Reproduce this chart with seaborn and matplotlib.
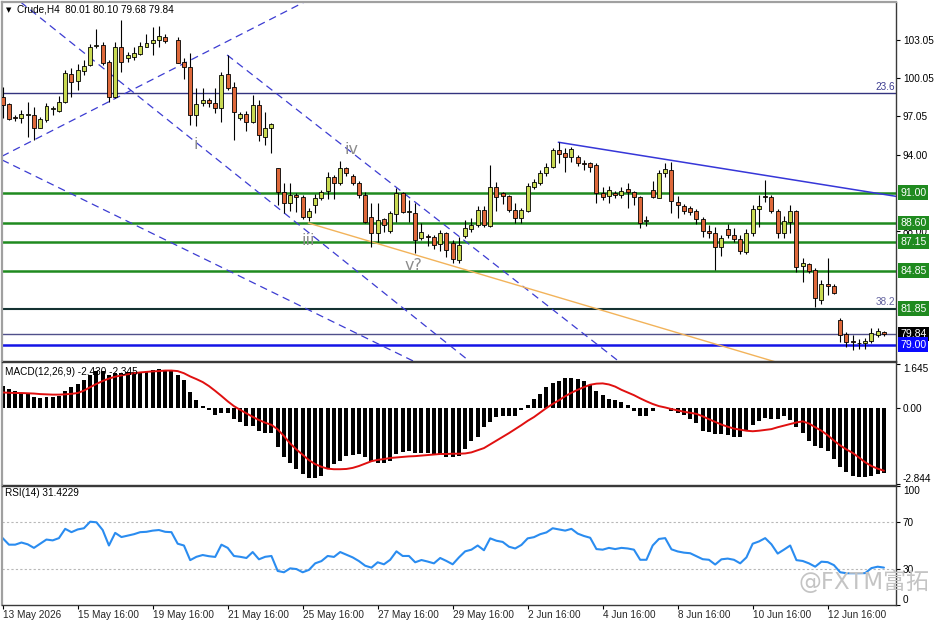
import numpy as np
import pandas as pd
import matplotlib
matplotlib.use("Agg")
import matplotlib.pyplot as plt
import matplotlib.transforms as mtransforms
import seaborn as sns

# ---------------- data ----------------
nan = np.nan
opens = [98.54, 97.99, 96.95, 96.88, 97.14, 97.14, 96.14, 96.75, 97.60, 97.48,
         98.19, 100.35, 99.85, 100.64, 101.09, 102.55, 102.67, 101.35, 98.54, 102.49,
         101.66, 101.74, 101.95, 102.53, 102.85, 103.06, 103.32, nan, 103.06, 101.30,
         100.96, 97.14, 98.07, 98.32, 98.07, 97.67, 100.35, 99.33, 96.93, 97.20,
         96.61, 97.93, 95.43, 96.09, 92.93, 91.04, 90.17, 90.80, 90.69, 89.06,
         90.04, 90.56, 91.16, 92.27, 91.80, 92.93, 92.32, 91.80, 90.83, 89.06,
         87.85, 88.90, 88.00, 89.33, 91.00, 89.50, 89.43, 87.40, 87.60, 87.47,
         86.95, 87.80, 87.01, 85.69, 87.59, 88.11, 88.46, 89.64, 88.38, 91.43,
         90.96, 90.75, 89.64, 88.98, 89.56, 91.48, 91.80, 92.54, 93.01, 94.38,
         94.17, 93.80, 93.80, 93.35, 93.32, 93.19, 91.01, 90.75, 91.01, 90.83,
         91.27, 91.06, 90.69, 88.75, 91.22, 90.61, 92.54, 92.80, 90.30, 89.98,
         89.83, 89.56, 88.90, 87.98, 87.80, 86.69, 88.11, 87.64, 87.38, 86.35,
         87.85, 89.69, 90.69, 90.69, 89.56, 87.80, 88.72, 89.56, 85.22, 85.38,
         84.90, 82.54, 83.80, 83.64, 80.96, 79.85, 79.22, 79.12, 79.11, 79.30,
         79.80, 80.01]
highs = [99.38, 98.09, 97.14, 97.53, 98.19, 97.75, 97.01, 98.09, 97.88, 98.64,
         100.69, 100.87, 101.14, 101.48, 102.72, 103.91, 102.93, 101.48, 102.93, 104.64,
         102.14, 102.53, 102.93, 103.54, 104.11, 104.17, 103.54, nan, 103.30, 101.62,
         102.01, 99.25, 99.25, 98.50, 99.25, 100.56, 101.88, 99.72, 97.40, 97.48,
         98.72, 98.32, 97.40, 96.49, 92.93, 91.75, 91.75, 90.96, 90.83, 89.79,
         90.90, 91.20, 92.66, 92.43, 93.53, 93.00, 92.50, 91.96, 91.10, 90.17,
         90.17, 89.00, 89.60, 91.35, 91.10, 90.40, 90.17, 88.60, 87.75, 87.70,
         88.10, 87.93, 87.27, 87.54, 88.85, 88.98, 89.96, 89.96, 93.19, 91.88,
         91.09, 90.83, 90.17, 89.77, 91.75, 92.06, 92.80, 93.32, 94.51, 94.98,
         94.51, 94.64, 93.98, 93.59, 93.46, 93.32, 91.43, 91.54, 91.14, 91.43,
         91.75, 91.17, 90.75, 89.17, 91.96, 92.80, 93.32, 93.46, 90.75, 90.12,
         89.96, 89.69, 89.06, 88.46, 88.33, 87.67, 88.51, 88.19, 87.67, 88.11,
         90.04, 90.83, 92.01, 90.83, 89.69, 89.17, 90.04, 89.64, 85.83, 85.48,
         85.04, 84.12, 85.88, 83.80, 81.09, 80.04, 79.77, 79.43, 79.51, 80.30,
         80.35, 80.10]
lows = [96.88, 96.74, 96.67, 96.49, 95.43, 95.17, 96.09, 96.60, 97.14, 97.40,
        98.11, 98.59, 99.11, 100.30, 101.03, 102.41, 101.09, 98.19, 98.46, 100.56,
        101.35, 101.48, 101.88, 102.49, 101.88, 102.53, 102.85, nan, 101.22, 99.96,
        96.35, 96.27, 97.85, 97.80, 97.27, 96.61, 99.11, 95.17, 96.75, 95.90,
        96.48, 95.11, 94.77, 94.12, 90.04, 89.43, 89.59, 89.50, 88.90, 88.75,
        89.43, 90.40, 90.48, 90.50, 91.60, 92.30, 91.60, 90.60, 88.60, 86.74,
        87.14, 87.90, 87.80, 88.72, 89.40, 88.72, 86.22, 87.30, 86.80, 86.60,
        86.40, 85.95, 85.48, 85.43, 87.40, 87.93, 88.33, 88.33, 88.33, 89.59,
        90.12, 89.51, 88.59, 88.59, 89.48, 91.27, 91.62, 92.33, 92.93, 93.32,
        92.67, 93.46, 93.11, 92.80, 92.67, 90.22, 90.43, 90.22, 90.56, 90.56,
        89.77, 90.04, 88.19, 88.38, 90.56, 90.56, 92.27, 89.43, 88.98, 89.32,
        89.25, 88.54, 87.54, 87.40, 84.90, 86.01, 87.40, 87.14, 86.17, 86.17,
        87.59, 88.33, 90.30, 89.43, 87.40, 87.40, 87.80, 84.77, 83.98, 84.69,
        82.01, 82.22, 82.93, 83.01, 79.24, 78.85, 78.59, 78.64, 78.64, 79.17,
        79.64, 79.68]
closes = [97.93, 96.80, 96.92, 97.20, 97.16, 96.14, 96.83, 97.88, 97.68, 98.14,
          100.43, 99.77, 100.69, 101.03, 102.49, 102.65, 101.22, 98.59, 102.49, 101.35,
          101.88, 102.01, 102.59, 102.85, 103.06, 103.38, 103.01, nan, 101.27, 100.91,
          97.14, 98.01, 98.32, 98.07, 97.67, 100.30, 99.25, 97.40, 97.20, 96.61,
          97.93, 95.56, 96.09, 96.41, 91.09, 90.17, 90.83, 90.70, 89.06, 89.56,
          90.56, 91.08, 92.22, 91.80, 92.93, 92.54, 91.80, 90.83, 88.72, 87.80,
          88.85, 88.46, 89.43, 91.00, 89.50, 89.52, 87.27, 87.90, 87.47, 86.85,
          87.80, 86.48, 85.75, 86.88, 88.19, 88.46, 89.64, 88.46, 91.48, 90.69,
          90.75, 89.64, 88.98, 89.64, 91.54, 91.88, 92.54, 93.01, 94.38, 94.06,
          93.85, 94.43, 93.32, 93.30, 93.01, 91.01, 90.69, 91.22, 90.83, 91.17,
          91.09, 90.64, 88.64, 88.82, 90.69, 92.54, 92.85, 90.35, 90.04, 89.59,
          89.51, 88.90, 87.98, 87.80, 86.69, 87.40, 87.64, 87.33, 86.43, 87.80,
          89.69, 89.96, 90.67, 89.56, 87.80, 88.77, 89.56, 85.17, 85.48, 84.85,
          82.67, 83.80, 83.67, 83.06, 79.77, 79.24, 79.19, 79.11, 79.32, 79.96,
          80.06, 79.84]

macd_main = [0.835, 0.71, 0.62, 0.56, 0.52, 0.42, 0.36, 0.40, 0.42, 0.46,
             0.65, 0.77, 0.90, 1.06, 1.25, 1.37, 1.40, 1.25, 1.30, 1.30,
             1.33, 1.33, 1.36, 1.40, 1.42, 1.46, 1.43, 1.40, 1.25, 1.05,
             0.59, 0.30, 0.09, -0.08, -0.25, -0.20, -0.20, -0.41, -0.54, -0.68,
             -0.68, -0.85, -0.95, -0.95, -1.45, -1.85, -2.07, -2.29, -2.47, -2.62,
             -2.62, -2.53, -2.25, -2.10, -1.97, -1.79, -1.75, -1.72, -1.85, -2.00,
             -2.04, -2.04, -1.97, -1.72, -1.66, -1.62, -1.70, -1.70, -1.70, -1.72,
             -1.72, -1.82, -1.85, -1.79, -1.52, -1.22, -1.07, -0.72, -0.54, -0.33,
             -0.29, -0.29, -0.29, -0.08, 0.11, 0.34, 0.52, 0.77, 0.92, 1.02,
             1.12, 1.12, 1.09, 1.02, 0.87, 0.65, 0.50, 0.34, 0.30, 0.21,
             0.12, -0.13, -0.29, -0.29, -0.13, -0.01, 0.02, -0.13, -0.20, -0.25,
             -0.41, -0.57, -0.85, -0.91, -0.97, -0.97, -1.00, -1.07, -1.07, -0.87,
             -0.62, -0.47, -0.37, -0.41, -0.41, -0.29, -0.45, -0.72, -0.95, -1.22,
             -1.41, -1.50, -1.60, -1.91, -2.22, -2.41, -2.53, -2.57, -2.57, -2.53,
             -2.47, -2.43]
macd_signal = [0.58, 0.57, 0.56, 0.56, 0.55, 0.54, 0.52, 0.51, 0.50, 0.50,
               0.51, 0.53, 0.56, 0.65, 0.78, 0.90, 1.01, 1.10, 1.17, 1.22,
               1.26, 1.30, 1.33, 1.35, 1.37, 1.38, 1.40, 1.40, 1.38, 1.30,
               1.18, 1.08, 0.97, 0.82, 0.64, 0.45, 0.25, 0.07, -0.07, -0.20,
               -0.33, -0.45, -0.55, -0.63, -0.80, -1.05, -1.33, -1.55, -1.75, -1.95,
               -2.10, -2.20, -2.27, -2.29, -2.29, -2.28, -2.24, -2.17, -2.08, -1.99,
               -1.94, -1.91, -1.87, -1.85, -1.83, -1.81, -1.80, -1.78, -1.76, -1.74,
               -1.72, -1.72, -1.71, -1.71, -1.70, -1.66, -1.58, -1.50, -1.36, -1.22,
               -1.08, -0.94, -0.79, -0.64, -0.48, -0.34, -0.17, 0.00, 0.15, 0.29,
               0.44, 0.57, 0.68, 0.78, 0.87, 0.91, 0.92, 0.88, 0.80, 0.68,
               0.58, 0.48, 0.36, 0.25, 0.15, 0.07, 0.02, -0.04, -0.09, -0.14,
               -0.18, -0.22, -0.31, -0.42, -0.52, -0.62, -0.70, -0.77, -0.81, -0.85,
               -0.87, -0.85, -0.82, -0.79, -0.72, -0.66, -0.60, -0.54, -0.50, -0.58,
               -0.72, -0.85, -1.02, -1.22, -1.40, -1.55, -1.68, -1.85, -2.03, -2.17,
               -2.27, -2.345]
rsi_values = [56.2, 50.7, 50.7, 52.5, 51.0, 48.0, 51.5, 55.0, 54.3, 56.2,
              64.0, 61.2, 63.5, 64.5, 70.0, 69.5, 63.0, 50.0, 60.6, 57.1,
              58.3, 59.5, 61.2, 61.5, 62.5, 63.0, 61.5, 61.2, 51.5, 50.0,
              37.7, 40.5, 42.0, 41.0, 40.4, 50.7, 48.0, 41.2, 40.5, 39.5,
              44.5, 38.4, 40.5, 41.2, 28.6, 27.5, 30.8, 30.2, 27.5, 29.5,
              35.0, 36.9, 41.2, 40.4, 44.5, 42.3, 40.0, 36.9, 33.0, 31.4,
              35.9, 34.2, 38.0, 45.1, 41.2, 41.2, 35.9, 37.8, 36.5, 35.0,
              39.5, 37.0, 34.2, 40.0, 45.1, 46.5, 50.0, 46.0, 56.0, 54.0,
              53.0, 49.0, 47.5, 50.5, 56.0, 57.0, 59.5, 61.0, 64.5, 63.5,
              62.5, 64.0, 60.0, 58.0, 56.5, 47.0, 46.5, 48.0, 47.0, 48.0,
              47.5, 46.5, 38.0, 38.0, 50.0, 55.5, 56.2, 46.8, 45.0, 44.0,
              43.5, 41.0, 38.5, 38.0, 34.0, 38.4, 39.0, 38.0, 35.0, 40.0,
              51.5, 53.4, 56.2, 51.0, 43.2, 46.5, 50.0, 37.7, 37.0, 35.0,
              32.2, 36.4, 36.0, 33.5, 27.5, 26.7, 26.7, 26.7, 26.8, 31.0,
              32.2, 31.42]

xtick_bars = [0, 12, 24, 36, 48, 60, 72, 84, 96, 108, 120, 132]
xtick_labels = ["13 May 2026", "15 May 16:00", "19 May 16:00", "21 May 16:00",
                "25 May 16:00", "27 May 16:00", "29 May 16:00", "2 Jun 16:00",
                "4 Jun 16:00", "8 Jun 16:00", "10 Jun 16:00", "12 Jun 16:00"]
price_ticks = [103.05, 100.05, 97.05, 94.00, 88.00]
green_levels = [91.00, 88.60, 87.15, 84.85]
fib_236 = 98.87
fib_382 = 81.85
bid_level = 79.84
support_level = 79.00
macd_ticks = [1.645, 0.00, -2.844]
rsi_ticks = [100, 70, 30, 0]

# trend / channel line anchors (bar index, price)
channel_up = [(5, 95.17), (17, 98.19)]
channel_down_b = [(6.45, 104.64), (56.05, 85.06)]
channel_down_c = [(-0.43, 93.67), (49.97, 81.51)]
ray_d = [(35.9, 101.88), (71.04, 88.32)]
ray_orange = [(48.9, 88.61), (74.2, 84.90)]
ray_top = [(88.9, 94.99), (143.3, 90.69)]
wave_labels = [("i", 30.9, 94.85), ("iii", 48.9, 87.2), ("iv", 55.8, 94.45), ("v?", 65.7, 85.25)]

# ---------------- styling ----------------
sns.set_theme(style="white")
plt.rcParams["font.family"] = ["Liberation Sans", "DejaVu Sans"]
plt.rcParams["axes.linewidth"] = 1.0

W, H = 936, 624
fig = plt.figure(figsize=(W / 100, H / 100), dpi=100)
fig.patch.set_facecolor("white")

def rect(top, bottom, left=2, right=896):
    return [left / W, 1 - bottom / H, (right - left) / W, (bottom - top) / H]

ax_p = fig.add_axes(rect(2, 361))
ax_m = fig.add_axes(rect(362, 485))
ax_r = fig.add_axes(rect(486, 605))

n = len(closes)
idx = np.arange(n)
xlim = (-0.11, 142.93)

BULL = "#c9da52"
BEAR = "#de683a"
TXT = 7.2

for ax in (ax_p, ax_m, ax_r):
    ax.set_facecolor("white")
    ax.set_xlim(*xlim)
    for s in ("top", "bottom", "right"):
        ax.spines[s].set_color("#3a3a3a")
        ax.spines[s].set_linewidth(1.0)
    ax.spines["left"].set_color("#a0a0a0")
    ax.spines["left"].set_linewidth(1.6)
    ax.yaxis.tick_right()
    ax.tick_params(axis="y", which="both", right=True, left=False, length=3,
                   width=0.8, color="black", labelsize=TXT, pad=2, labelcolor="black")
    ax.grid(False)
ax_p.spines["top"].set_color("#a0a0a0")
ax_p.spines["top"].set_linewidth(1.6)

# ---------------- price panel ----------------
o = np.array(opens); h = np.array(highs); l = np.array(lows); c = np.array(closes)
ok = ~np.isnan(c)
bull = c >= o
body_lo = np.minimum(o, c)
body_h = np.maximum(np.abs(c - o), 0.07)
ax_p.vlines(idx[ok], l[ok], h[ok], color="black", lw=0.8, zorder=3)
ax_p.bar(idx[ok], body_h[ok], bottom=body_lo[ok], width=0.62,
         color=np.where(bull, BULL, BEAR)[ok], edgecolor="black", linewidth=0.6, zorder=4)

ax_p.set_ylim(77.72, 106.06)
ax_p.set_yticks(price_ticks)
ax_p.set_yticklabels([f"{v:.2f}" for v in price_ticks])
ax_p.set_xticks([])

# horizontal levels
ax_p.axhline(fib_236, color="#33337f", lw=1.0, zorder=2)
for v in green_levels:
    ax_p.axhline(v, color="#1f8a1f", lw=1.8, zorder=2)
ax_p.axhline(fib_382, color="#143232", lw=1.5, zorder=2)
ax_p.axhline(bid_level, color="#50508a", lw=1.0, zorder=2)
ax_p.axhline(support_level, color="#1414e6", lw=1.8, zorder=2)

# channel lines (dashed) and trend lines
dash = (0, (6, 4))
for pts in (channel_up, channel_down_b, channel_down_c):
    ax_p.axline(pts[0], pts[1], color="#3c3cd2", lw=0.9, ls=dash, zorder=2)

def ray(ax, pts, **kw):
    (x0, y0), (x1, y1) = pts
    slope = (y1 - y0) / (x1 - x0)
    xe = 170
    ax.plot([x0, xe], [y0, y0 + slope * (xe - x0)], **kw)

ray(ax_p, ray_d, color="#3c3cd2", lw=0.9, ls=dash, zorder=2)
ray(ax_p, ray_orange, color="#f2b35a", lw=1.0, zorder=2)
ray(ax_p, ray_top, color="#3636d8", lw=1.1, zorder=2)

for txt, xi, yv in wave_labels:
    ax_p.text(xi, yv, txt, color="#8c8c8c", fontsize=11.5, ha="center", va="center",
              family="DejaVu Sans", zorder=5)

# right-side price boxes
trans_p = mtransforms.blended_transform_factory(ax_p.transAxes, ax_p.transData)
boxes = [(v, "#1f8a1f") for v in green_levels] + [(fib_382, "#1f8a1f"),
                                                   (bid_level, "#000000"),
                                                   (support_level, "#0a0aff")]
for v, col in boxes:
    ax_p.text(1.0045, v, f"{v:.2f}", transform=trans_p, color="white", fontsize=7.6,
              ha="left", va="center", zorder=10, clip_on=False,
              bbox=dict(boxstyle="square,pad=0.22", fc=col, ec=col, lw=0))
ax_p.text(0.9985, fib_236 + 0.12, "23.6", transform=trans_p, color="#3c3c90",
          fontsize=TXT, ha="right", va="bottom", zorder=6)
ax_p.text(0.9985, fib_382 + 0.12, "38.2", transform=trans_p, color="#6464a0",
          fontsize=TXT, ha="right", va="bottom", zorder=6)

# ---------------- MACD panel ----------------
macd_df = pd.DataFrame({"bar": idx, "macd": macd_main, "signal": macd_signal})
sns.barplot(data=macd_df, x="bar", y="macd", native_scale=True, color="black",
            width=0.62, errorbar=None, linewidth=0, saturation=1, ax=ax_m)
sns.lineplot(data=macd_df, x="bar", y="signal", color="#e01010", lw=1.4, ax=ax_m)
ax_m.set_xlim(*xlim)
ax_m.set_ylim(-2.88, 1.72)
ax_m.set_yticks(macd_ticks)
ax_m.set_yticklabels(["1.645", "0.00", "-2.844"])
labs = ax_m.get_yticklabels()
labs[0].set_va("top"); labs[2].set_va("bottom")
ax_m.set_xticks([])
ax_m.set_xlabel(""); ax_m.set_ylabel("")

# ---------------- RSI panel ----------------
rsi_df = pd.DataFrame({"bar": idx, "rsi": rsi_values})
sns.lineplot(data=rsi_df, x="bar", y="rsi", color="#2a8cf0", lw=1.5, ax=ax_r)
for v in (70, 30):
    ax_r.axhline(v, color="#b8b8b8", lw=0.8, ls=(0, (2, 2)), zorder=1)
ax_r.set_xlim(*xlim)
ax_r.set_ylim(0, 100)
ax_r.set_yticks(rsi_ticks)
ax_r.set_yticklabels([str(v) for v in rsi_ticks])
rl = ax_r.get_yticklabels()
rl[0].set_va("top"); rl[3].set_va("bottom")
ax_r.set_xticks(xtick_bars)
ax_r.set_xticklabels(xtick_labels, ha="left")
ax_r.tick_params(axis="x", bottom=True, length=3, width=0.8, color="black",
                 labelsize=TXT, pad=0.5, direction="out")
ax_r.set_xlabel(""); ax_r.set_ylabel("")

# ---------------- header texts ----------------
fig.text(6 / W, 1 - 10 / H, "\u25BC", fontsize=5, va="center", ha="left",
         family="DejaVu Sans", color="black")
fig.text(17 / W, 1 - 10 / H, "Crude,H4  80.01 80.10 79.68 79.84", fontsize=TXT,
         va="center", ha="left", color="black")
fig.text(5 / W, 1 - 372 / H, "MACD(12,26,9) -2.430 -2.345", fontsize=TXT,
         va="center", ha="left", color="black")
fig.text(5 / W, 1 - 493 / H, "RSI(14) 31.4229", fontsize=TXT,
         va="center", ha="left", color="black")

# watermark
fig.text(798 / W, 1 - 582 / H, "@FXTM富拓", fontsize=16.5, va="center", ha="left",
         color="#c4c4c4", family=["DejaVu Sans", "Noto Sans CJK SC"], zorder=20)

fig.savefig("out.png", dpi=100, facecolor="white")
